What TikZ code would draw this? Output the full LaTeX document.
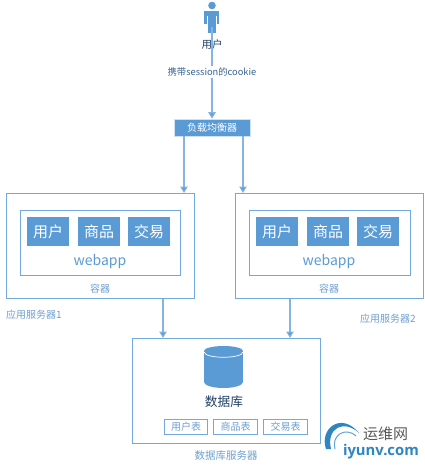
\documentclass[tikz,border=0pt]{standalone}
\usepackage{fontspec}
\setmainfont{Noto Sans CJK SC}
\newfontfamily\latinf{Open Sans}
\usetikzlibrary{arrows.meta,shapes.geometric}
\definecolor{blu}{HTML}{5B9BD5}
\definecolor{lbl}{HTML}{6F9FD0}
\definecolor{dark}{HTML}{1F3F66}
\definecolor{wmb}{HTML}{2E86C1}
\tikzset{
  x=1pt,y=-1pt,
  box/.style={draw=blu!85!white,line width=1pt,fill=white,inner sep=0,anchor=north west},
  tile/.style={fill=blu,text=white,font=\fontsize{15}{16}\selectfont,inner sep=0,anchor=north west,minimum width=42pt,minimum height=29pt},
  tabbox/.style={draw=blu!85!white,line width=1pt,text=lbl,font=\fontsize{10}{11}\selectfont,inner sep=0,anchor=north west,minimum width=43pt,minimum height=15pt},
  captext/.style={text=lbl,font=\fontsize{10}{11}\selectfont,inner sep=0},
  conn/.style={draw=blu!75!white,line width=1.1pt,-{Triangle[length=6.5pt,width=7.5pt,fill=blu]}},
}
\begin{document}
\begin{tikzpicture}
\useasboundingbox (0,0) rectangle (425,468);
% user
\fill[blu] (212,5.5) circle (3.8);
\fill[blu] (204,11) rectangle (219,24);
\fill[blu] (208,20) rectangle (216,33);
\draw[white,line width=.6pt] (207,16) -- (207,25) (216.5,16) -- (216.5,25);
\node[inner sep=0,minimum size=1pt] (usr) at (212,26) {};
\node[inner sep=0,font=\fontsize{10.5}{11}\selectfont,text=dark] (usrl) at (212,44.5) {用户};
\node[inner sep=1pt,fill=white,font=\fontsize{9.3}{10}\selectfont,text=dark!60!blu] (carry) at (212,72) {携带session的cookie};
\node[fill=blu,text=white,font=\fontsize{10}{11}\selectfont,inner sep=0,minimum width=76pt,minimum height=17pt,draw=white!70!blu,line width=.5pt] (lb) at (212,127.5) {负载均衡器};
% servers
\node[box,minimum width=188pt,minimum height=105pt] (s1) at (6,193) {};
\node[box,minimum width=160pt,minimum height=65pt] (c1) at (20,210) {};
\node[tile] (a1) at (27,217) {用户};
\node[tile] (a2) at (78,217) {商品};
\node[tile] (a3) at (128,217) {交易};
\node[inner sep=0,text=blu,font=\fontsize{14}{15}\selectfont] (w1) at (100,261.5) {webapp};
\node[captext] (r1) at (100,289) {容器};
\node[captext,anchor=west] (l1) at (6,315) {应用服务器1};
\node[box,minimum width=188pt,minimum height=105pt] (s2) at (235,193) {};
\node[box,minimum width=161pt,minimum height=65pt] (c2) at (249,210) {};
\node[tile] (b1) at (256,217) {用户};
\node[tile] (b2) at (307,217) {商品};
\node[tile] (b3) at (357,217) {交易};
\node[inner sep=0,text=blu,font=\fontsize{14}{15}\selectfont] (w2) at (329,261.5) {webapp};
\node[captext] (r2) at (329,289) {容器};
\node[captext,anchor=west] (l2) at (360,319) {应用服务器2};
% database
\node[box,minimum width=188pt,minimum height=105pt] (db) at (132,338) {};
\fill[blu] (204,351) rectangle (243,382);
\fill[blu] (223.5,351) ellipse[x radius=19.5,y radius=5];
\fill[blu] (223.5,382) ellipse[x radius=19.5,y radius=6];
\draw[white,line width=.7pt] (204,352) .. controls (205,359) and (242,359) .. (243,352);
\node[inner sep=0,text=dark,font=\fontsize{12.7}{13}\selectfont] (dbl) at (224,402) {数据库};
\node[tabbox] (t1) at (164,419) {用户表};
\node[tabbox,minimum width=44pt] (t2) at (213,419) {商品表};
\node[tabbox,minimum width=44pt] (t3) at (263,419) {交易表};
\node[captext,font=\fontsize{10.5}{11}\selectfont] (dbs) at (226,456) {数据库服务器};
% connectors
\draw[draw=blu!75!white,line width=1.1pt] (usr) -- (carry);
\draw[conn] (carry) -- (lb);
\draw[conn] (lb.south -| 184,0) -- (s1.north -| 184,0);
\draw[conn] (lb.south -| 243,0) -- (s2.north -| 243,0);
\draw[conn] (s1.south -| 163,0) -- (db.north -| 163,0);
\draw[conn] (s2.south -| 290,0) -- (db.north -| 290,0);
% watermark
\fill[wmb] (326,449) .. controls (319,429) and (341,411) .. (359,433) .. controls (344,419) and (326,428) .. (331,449) -- cycle;
\draw[wmb!75!white,line width=1pt] (335,449) .. controls (331,436) and (345,426) .. (356,436);
\node[inner sep=0,text=black!65,font=\fontsize{15}{16}\selectfont] (wm) at (385.5,434) {运维网};
\node[inner sep=0,text=wmb,font=\latinf\bfseries\fontsize{14.8}{16}\selectfont,anchor=east] (wu) at (419,452) {iyunv.com};
\end{tikzpicture}
\end{document}
